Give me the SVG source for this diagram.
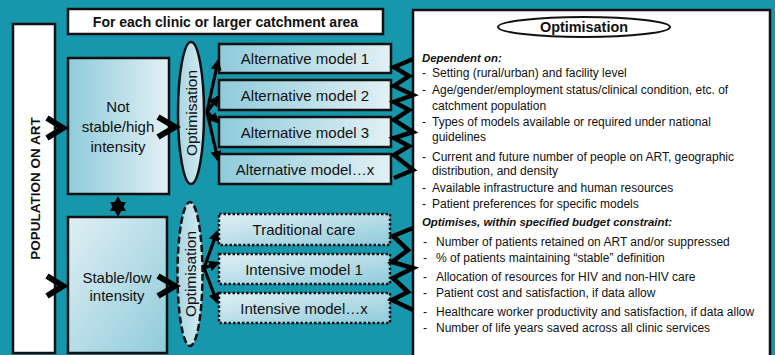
<svg xmlns="http://www.w3.org/2000/svg" width="775" height="355" viewBox="0 0 775 355">
<defs>
<linearGradient id="gH" x1="0" y1="0" x2="1" y2="0"><stop offset="0" stop-color="#8fcbdb"/><stop offset="1" stop-color="#e2f0f4"/></linearGradient>
<linearGradient id="gD" x1="0" y1="0" x2="1" y2="1"><stop offset="0" stop-color="#e0eff4"/><stop offset="1" stop-color="#90cbdb"/></linearGradient>
<linearGradient id="gE" x1="0" y1="0" x2="1" y2="0"><stop offset="0" stop-color="#a9d6e2"/><stop offset="1" stop-color="#d6ebf1"/></linearGradient>
<marker id="ah" viewBox="0 0 10 10" refX="8" refY="5" markerWidth="11" markerHeight="11" markerUnits="userSpaceOnUse" orient="auto-start-reverse"><path d="M0,0 L10,5 L0,10 z" fill="#000"/></marker>
<style>
.t{font-family:"Liberation Sans",Arial,sans-serif;fill:#111}
.box{stroke:#111;stroke-width:2.5}
.dot{stroke:#111;stroke-width:2.5;stroke-dasharray:2.5 2}
.chev{fill:none;stroke:#000;stroke-width:6;stroke-linejoin:miter}
.arr{fill:none;stroke:#000;stroke-width:3.2}
.zz{fill:none;stroke:#000;stroke-width:4.5;stroke-linejoin:miter}
.m{font-size:15px;text-anchor:middle}
.p{font-size:12px}
.b{font-size:11.4px;font-weight:bold;font-style:italic}
</style>
</defs>
<rect x="0" y="0" width="775" height="355" fill="#1797ab"/>

<g id="title">
<rect x="68" y="9" width="315" height="25" fill="#fff" class="box"/>
<text class="t" x="225.5" y="26.5" font-size="14" font-weight="bold" text-anchor="middle">For each clinic or larger catchment area</text>
</g>

<g id="population">
<rect x="13" y="24" width="42" height="329" fill="#fff" class="box"/>
<text class="t" transform="translate(35,188.5) rotate(-90)" x="0" y="5" font-size="13.5" font-weight="bold" text-anchor="middle">POPULATION ON ART</text>
</g>

<g id="not-stable">
<rect x="68" y="58" width="101" height="136" fill="url(#gH)" class="box"/>
<text class="t m" x="118" y="112">Not</text>
<text class="t m" x="118" y="132">stable/high</text>
<text class="t m" x="118" y="152">intensity</text>
</g>

<g id="stable">
<rect x="68" y="217" width="99" height="136" fill="url(#gD)" class="box"/>
<text class="t m" x="117" y="283">Stable/low</text>
<text class="t m" x="117" y="301">intensity</text>
</g>

<g id="opt1">
<ellipse cx="191" cy="113" rx="13" ry="71" fill="url(#gE)" stroke="#111" stroke-width="2.5"/>
<text class="t" transform="translate(191,113) rotate(-90)" x="0" y="5.5" font-size="15.5" text-anchor="middle">Optimisation</text>
</g>

<g id="opt2">
<ellipse cx="190" cy="274" rx="12.5" ry="72" fill="url(#gE)" stroke="#111" stroke-width="2.5" stroke-dasharray="7 3"/>
<text class="t" transform="translate(190,274) rotate(-90)" x="0" y="5.5" font-size="15.5" text-anchor="middle">Optimisation</text>
</g>

<g id="alt1"><rect x="219" y="44" width="172" height="29" fill="url(#gH)" class="box"/><text class="t m" x="305" y="64">Alternative model 1</text></g>
<g id="alt2"><rect x="219" y="80" width="172" height="30" fill="url(#gH)" class="box"/><text class="t m" x="305" y="100.5">Alternative model 2</text></g>
<g id="alt3"><rect x="219" y="117" width="172" height="30" fill="url(#gH)" class="box"/><text class="t m" x="305" y="137.5">Alternative model 3</text></g>
<g id="altx"><rect x="219" y="154" width="172" height="30" fill="url(#gH)" class="box"/><text class="t m" x="305" y="174.5">Alternative model…x</text></g>

<g id="trad"><rect x="219" y="214" width="171" height="31" fill="url(#gD)" class="dot"/><text class="t m" x="304" y="235">Traditional care</text></g>
<g id="int1"><rect x="219" y="254" width="171" height="30" fill="url(#gD)" class="dot"/><text class="t m" x="304" y="274.5">Intensive model 1</text></g>
<g id="intx"><rect x="219" y="293" width="171" height="30" fill="url(#gD)" class="dot"/><text class="t m" x="304" y="313.5">Intensive model…x</text></g>

<g id="panel">
<rect x="413" y="10" width="357" height="360" fill="#fff" class="box"/>
<ellipse cx="584" cy="27" rx="86" ry="10" fill="#fff" stroke="#111" stroke-width="2"/>
<text class="t" x="584" y="32" font-size="14.4" font-weight="bold" text-anchor="middle">Optimisation</text>
<text class="t b" x="422" y="62">Dependent on:</text>
<text class="t p" y="77"><tspan x="422">-</tspan><tspan x="432">Setting (rural/urban) and facility level</tspan></text>
<text class="t p" y="94"><tspan x="422">-</tspan><tspan x="432">Age/gender/employment status/clinical condition, etc. of</tspan></text>
<text class="t p" x="432" y="110">catchment population</text>
<text class="t p" y="126"><tspan x="422">-</tspan><tspan x="432">Types of models available or required under national</tspan></text>
<text class="t p" x="432" y="141">guidelines</text>
<text class="t p" y="161"><tspan x="422">-</tspan><tspan x="432">Current and future number of people on ART, geographic</tspan></text>
<text class="t p" x="432" y="174.5">distribution, and density</text>
<text class="t p" y="192"><tspan x="422">-</tspan><tspan x="432">Available infrastructure and human resources</tspan></text>
<text class="t p" y="208"><tspan x="422">-</tspan><tspan x="432">Patient preferences for specific models</tspan></text>
<text class="t b" x="422" y="226">Optimises, within specified budget constraint:</text>
<text class="t p" y="245.5"><tspan x="423">-</tspan><tspan x="436">Number of patients retained on ART and/or suppressed</tspan></text>
<text class="t p" y="261.5"><tspan x="423">-</tspan><tspan x="436">% of patients maintaining “stable” definition</tspan></text>
<text class="t p" y="281"><tspan x="423">-</tspan><tspan x="436">Allocation of resources for HIV and non-HIV care</tspan></text>
<text class="t p" y="297"><tspan x="423">-</tspan><tspan x="436">Patient cost and satisfaction, if data allow</tspan></text>
<text class="t p" y="316"><tspan x="423">-</tspan><tspan x="436">Healthcare worker productivity and satisfaction, if data allow</tspan></text>
<text class="t p" y="331.5"><tspan x="423">-</tspan><tspan x="436">Number of life years saved across all clinic services</tspan></text>
</g>

<g id="connectors">
<polyline class="chev" points="47,118 63,128 47,138"/>
<polyline class="chev" points="158,117 175,127 158,137"/>
<polyline class="chev" points="47,276 63,286 47,296"/>
<polyline class="chev" points="158,276 175,286 158,296"/>
<path d="M118,196 L126,211 L110,211 Z M118,217 L110,202 L126,202 Z" fill="#000"/>
<path class="arr" d="M207,112 L218,61" marker-end="url(#ah)"/>
<path class="arr" d="M207,112 L218,97" marker-end="url(#ah)"/>
<path class="arr" d="M207,112 L218,122" marker-end="url(#ah)"/>
<path class="arr" d="M207,112 L218,160" marker-end="url(#ah)"/>
<path class="arr" d="M204,268 L217,232" marker-end="url(#ah)"/>
<path class="arr" d="M204,268 L218,263" marker-end="url(#ah)"/>
<path class="arr" d="M204,268 L217,302" marker-end="url(#ah)"/>
<polyline class="zz" points="413,59 394,67 409,76 394,86 413,95 394,102 409,110 394,120 413,132 394,138 409,146 394,155 413,170 394,178"/>
<polyline class="zz" points="413,228 393,236 408,250 392,262 413,268 393,278 408,292 392,300 413,310"/>
</g>
</svg>
